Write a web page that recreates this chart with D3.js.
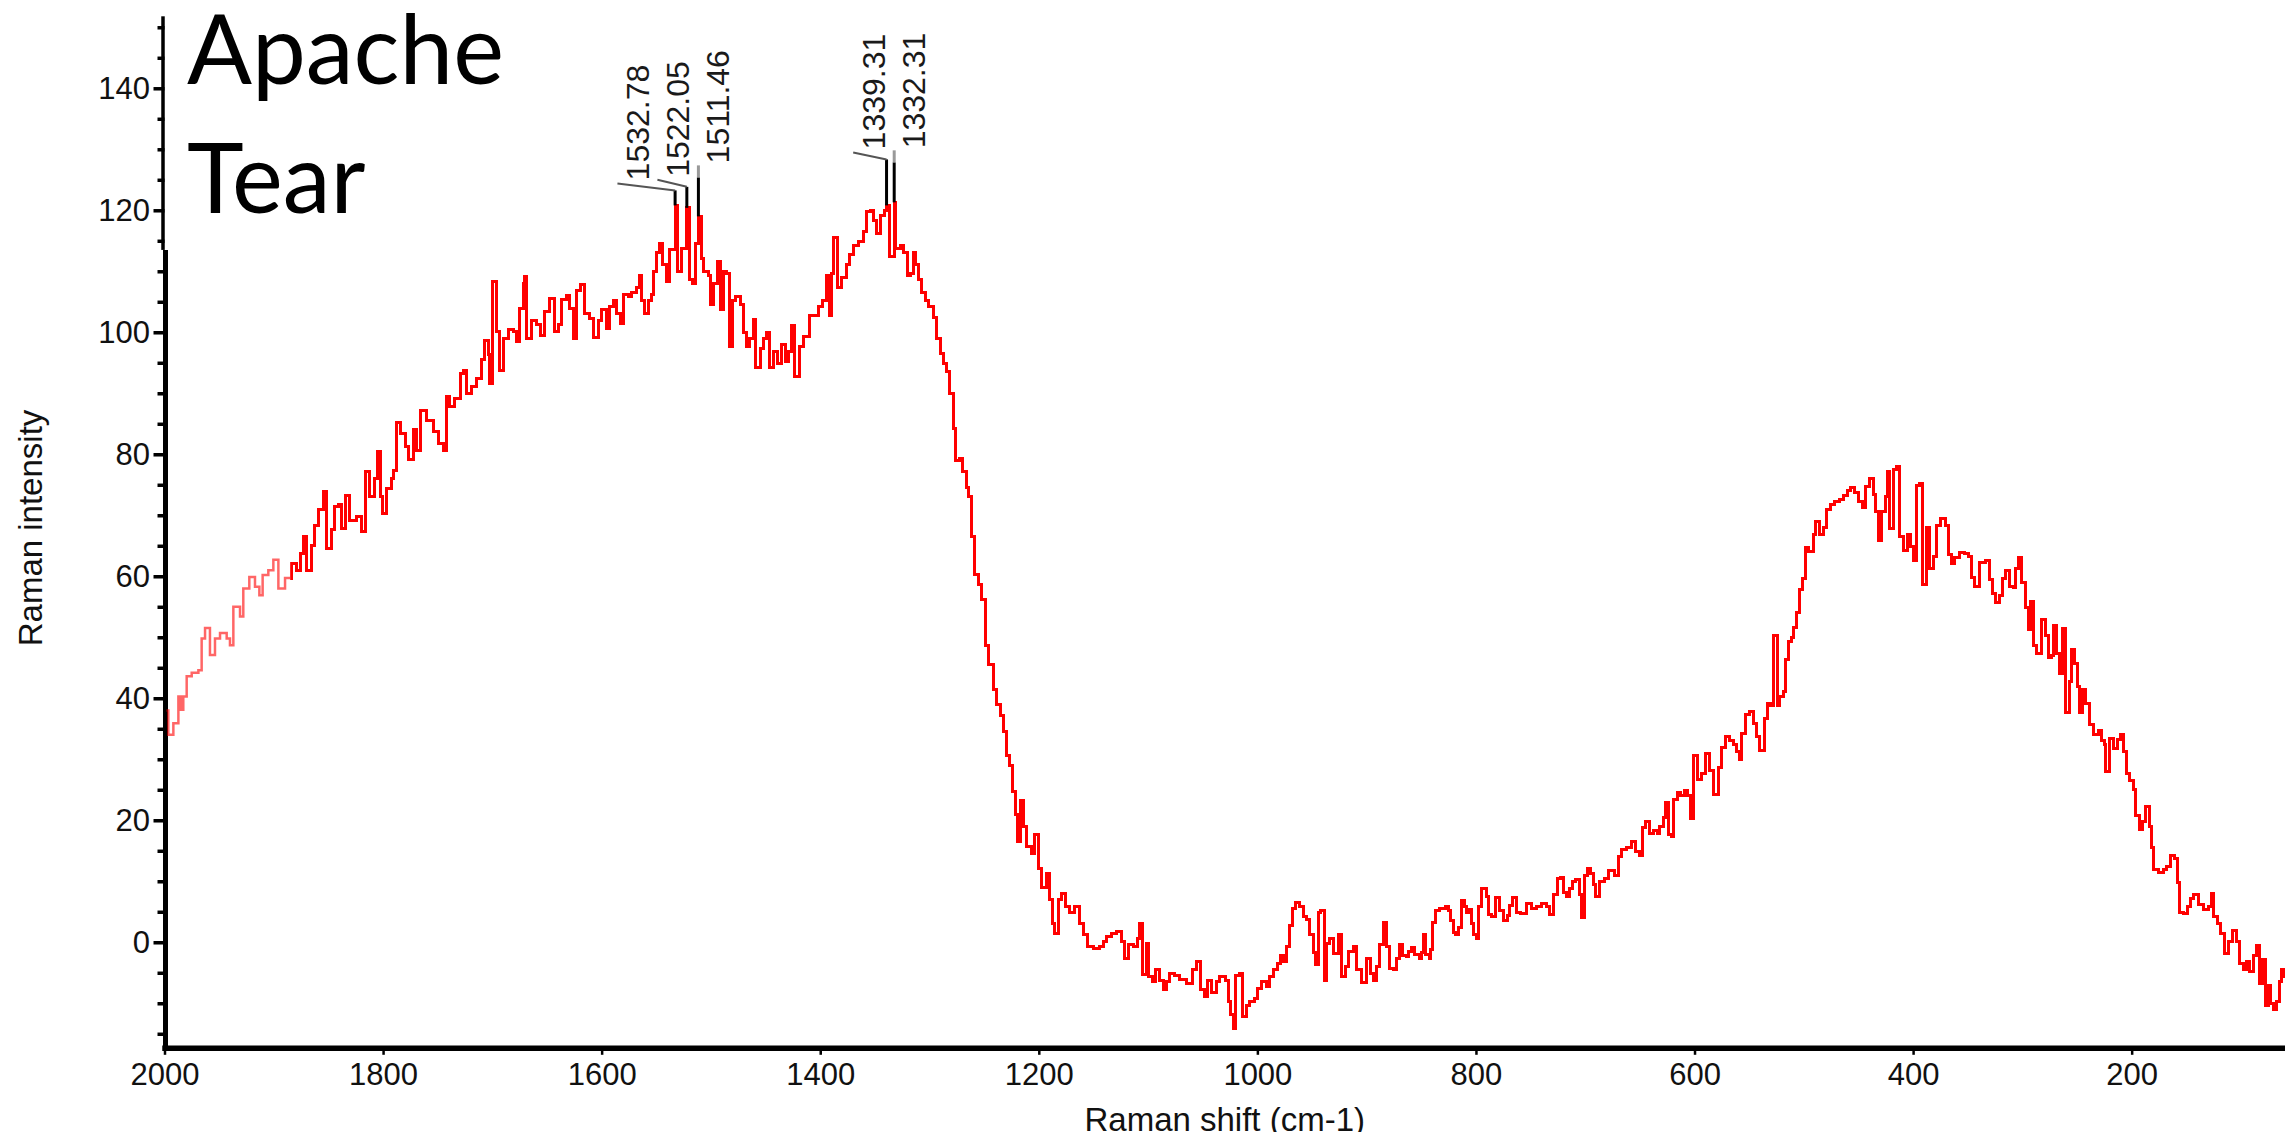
<!DOCTYPE html>
<html>
<head>
<meta charset="utf-8">
<title>Apache Tear - Raman spectrum</title>
<script src="https://cdn.jsdelivr.net/npm/d3@7"></script>
<style>
  body { margin: 0; background: #fff; }
  svg { display: block; background: #fff; }
</style>
</head>
<body>
<svg></svg>
<script>
// spectrum, cm-1 (descending) and intensity
var ramanShift = [
  2000, 1996.5, 1991.9, 1987.3, 1985.0, 1982.8, 1979.7, 1975.1, 1969.0, 1966.0,
  1962.9, 1958.4, 1953.8, 1949.2, 1943.1, 1940.1, 1937.0, 1930.9, 1927.9, 1922.4,
  1917.2, 1913.2, 1910.2, 1905.0, 1900.4, 1895.8, 1889.7, 1883.6, 1879.1, 1876.0,
  1873.0, 1869.9, 1865.3, 1862.3, 1859.2, 1854.7, 1851.6, 1847.0, 1844.0, 1840.9,
  1837.9, 1834.8, 1830.3, 1824.2, 1819.6, 1816.5, 1812.0, 1807.4, 1805.3, 1802.8,
  1800.7, 1796.7, 1792.1, 1790.6, 1787.6, 1784.5, 1779.9, 1776.9, 1772.3, 1769.3,
  1766.2, 1760.1, 1754.0, 1749.5, 1744.9, 1742.4, 1738.8, 1734.2, 1729.6, 1726.6,
  1723.5, 1719.0, 1714.4, 1709.8, 1706.8, 1703.7, 1702.2, 1699.8, 1696.1, 1693.7,
  1690.0, 1685.4, 1680.8, 1677.8, 1675.3, 1671.7, 1670.2, 1668.6, 1664.1, 1659.5,
  1656.4, 1651.9, 1647.3, 1642.7, 1639.7, 1636.6, 1632.0, 1629.0, 1626.0, 1622.9,
  1619.8, 1615.3, 1610.7, 1607.6, 1603.1, 1600.0, 1595.4, 1592.4, 1589.3, 1586.3,
  1582.6, 1580.2, 1575.6, 1572.5, 1567.9, 1565.5, 1563.4, 1560.9, 1557.3, 1554.2,
  1552.7, 1549.7, 1547.2, 1544.2, 1541.1, 1537.5, 1532.78, 1530.7, 1526.8, 1522.05,
  1519.5, 1517.0, 1514.5, 1511.46, 1509.0, 1507.0, 1502.4, 1500.2, 1497.2, 1494.1,
  1491.7, 1488.7, 1486.2, 1483.2, 1480.1, 1477.1, 1473.4, 1470.3, 1467.3, 1464.3,
  1460.6, 1458.8, 1455.1, 1452.1, 1449.0, 1446.0, 1442.9, 1439.2, 1435.3, 1432.2,
  1429.2, 1426.1, 1423.1, 1419.1, 1415.5, 1410.0, 1406.3, 1401.7, 1397.8, 1394.7,
  1391.7, 1389.5, 1387.4, 1384.3, 1380.4, 1376.4, 1373.4, 1369.7, 1365.1, 1360.5,
  1357.5, 1354.4, 1351.4, 1348.4, 1344.7, 1341.6, 1339.31, 1336.8, 1332.31, 1330.7,
  1327.0, 1324.0, 1320.3, 1317.2, 1314.8, 1312.4, 1310.2, 1307.2, 1304.1, 1301.1,
  1296.5, 1293.5, 1290.4, 1287.4, 1284.3, 1281.3, 1278.2, 1275.8, 1272.7, 1269.7,
  1266.6, 1264.5, 1261.4, 1258.4, 1255.3, 1252.3, 1249.2, 1246.2, 1241.6, 1238.6,
  1235.5, 1232.5, 1229.4, 1227.0, 1223.9, 1221.2, 1219.3, 1217.2, 1214.2, 1211.1,
  1206.5, 1203.5, 1200.4, 1197.4, 1192.8, 1189.8, 1187.3, 1185.2, 1182.1, 1179.1,
  1176.0, 1171.5, 1166.9, 1162.9, 1159.3, 1155.6, 1150.1, 1144.0, 1141.0, 1137.9,
  1133.3, 1128.8, 1124.2, 1122.0, 1118.1, 1113.5, 1109.8, 1107.4, 1104.9, 1101.9,
  1099.8, 1095.8, 1092.8, 1089.1, 1086.1, 1083.0, 1080.0, 1075.4, 1070.8, 1064.7,
  1059.2, 1055.6, 1051.9, 1048.8, 1045.8, 1041.8, 1037.3, 1034.2, 1029.6, 1026.6,
  1024.4, 1022.0, 1019.6, 1016.5, 1013.5, 1010.4, 1006.8, 1002.2, 1000.0, 996.1,
  991.5, 988.5, 984.8, 981.7, 978.7, 976.3, 973.2, 970.2, 967.7, 964.7,
  961.0, 958.0, 954.9, 951.9, 948.8, 947.0, 944.2, 941.8, 939.0, 936.6,
  933.6, 930.5, 925.9, 922.9, 919.8, 916.8, 912.2, 909.1, 904.6, 900.6,
  896.9, 893.9, 890.9, 887.8, 884.7, 882.3, 879.3, 875.6, 872.6, 869.5,
  867.1, 864.0, 861.9, 858.8, 855.8, 851.8, 849.7, 848.2, 846.6, 842.7,
  841.4, 839.6, 836.6, 832.9, 828.3, 825.3, 823.1, 820.7, 818.3, 816.1,
  813.1, 810.9, 808.5, 805.5, 803.9, 801.8, 799.3, 797.8, 794.8, 790.8,
  788.7, 785.6, 781.7, 778.6, 775.0, 771.3, 768.9, 766.4, 762.7, 759.1,
  754.2, 749.0, 744.5, 739.9, 735.3, 732.9, 728.6, 725.5, 722.5, 720.1,
  717.0, 714.0, 711.5, 708.5, 705.4, 703.3, 701.1, 698.1, 695.0, 692.6,
  690.2, 687.1, 682.8, 678.9, 675.8, 672.8, 669.7, 666.7, 662.1, 657.5,
  653.6, 650.5, 647.5, 644.4, 641.4, 637.7, 634.0, 631.6, 628.6, 626.4,
  624.0, 620.9, 618.8, 615.7, 612.7, 609.6, 606.6, 603.5, 600.5, 597.4,
  593.5, 589.5, 586.5, 582.8, 578.2, 575.2, 572.1, 567.6, 564.5, 561.5,
  559.0, 556.9, 553.8, 549.9, 545.6, 543.1, 540.1, 536.4, 533.4, 530.3,
  527.3, 524.2, 521.8, 518.8, 516.3, 514.2, 511.1, 509.0, 506.6, 503.5,
  501.1, 498.0, 495.9, 491.3, 488.9, 485.8, 482.2, 479.1, 475.4, 471.5,
  467.5, 463.8, 460.2, 457.1, 453.2, 450.1, 446.2, 443.1, 439.5, 436.4,
  434.0, 431.5, 428.8, 425.7, 423.6, 421.2, 418.1, 415.1, 412.6, 409.0,
  405.3, 402.2, 399.2, 396.8, 394.3, 391.3, 387.6, 384.6, 381.5, 378.5,
  374.8, 370.8, 367.8, 364.7, 361.7, 357.7, 353.4, 349.5, 346.4, 343.4,
  338.8, 334.2, 330.3, 327.2, 324.2, 320.5, 318.1, 315.0, 312.0, 308.3,
  305.9, 303.7, 300.7, 297.6, 294.6, 292.4, 290.0, 286.9, 282.4, 279.3,
  276.3, 273.2, 271.7, 268.7, 266.2, 263.2, 260.1, 257.1, 254.9, 251.9,
  249.7, 247.3, 244.9, 241.8, 238.8, 235.1, 230.5, 227.5, 225.3, 223.5,
  220.5, 216.8, 213.1, 210.1, 207.7, 204.6, 201.6, 198.5, 196.1, 193.0,
  190.0, 186.9, 183.9, 181.7, 180.2, 175.6, 171.1, 168.0, 164.3, 160.4,
  158.2, 155.8, 152.8, 149.1, 146.0, 143.0, 139.0, 134.5, 129.9, 126.8,
  124.7, 121.6, 118.6, 115.5, 111.6, 107.6, 103.9, 100.9, 97.9, 94.8,
  91.8, 88.7, 85.7, 83.2, 80.2, 78.0, 75.0, 72.8, 70.4, 67.4,
  64.9, 62.8, 60.6
];

var intensity = [
  38.0, 34.0, 35.9, 40.3, 38.1, 40.3, 43.6, 44.2, 44.6, 49.8,
  51.5, 47.1, 49.8, 50.7, 49.8, 48.7, 55.0, 53.4, 58.0, 59.9,
  58.3, 56.9, 60.2, 61.0, 62.7, 58.0, 59.7, 62.1, 61.0, 63.8,
  66.5, 61.0, 65.1, 68.4, 70.9, 73.9, 64.6, 67.6, 71.4, 71.7,
  67.9, 73.2, 69.2, 69.8, 67.3, 77.2, 73.1, 76.1, 80.4, 73.1,
  70.3, 74.4, 76.1, 77.4, 85.2, 83.4, 81.3, 79.1, 84.0, 80.7,
  87.1, 85.6, 83.7, 81.8, 80.7, 89.5, 87.8, 89.2, 93.3, 93.8,
  90.0, 91.1, 92.5, 95.5, 98.7, 96.3, 91.6, 108.3, 100.1, 93.8,
  99.0, 100.5, 100.1, 98.5, 103.9, 108.0, 109.2, 99.0, 102.0, 101.2,
  99.4, 103.4, 105.6, 100.1, 101.2, 105.3, 106.1, 103.9, 99.0, 106.9,
  107.8, 103.1, 102.3, 99.2, 102.0, 103.8, 100.7, 104.2, 105.2, 103.1,
  101.4, 106.2, 105.9, 106.6, 107.3, 109.3, 105.2, 103.1, 105.2, 106.2,
  110.0, 113.1, 114.5, 111.1, 108.3, 113.5, 120.8, 110.0, 113.8, 120.4,
  108.7, 108.0, 114.5, 119.0, 112.1, 110.0, 109.3, 104.5, 108.0, 111.6,
  103.8, 110.0, 109.7, 97.6, 105.2, 105.9, 104.5, 100.0, 97.6, 99.0,
  102.1, 94.2, 97.3, 99.0, 100.0, 94.2, 96.9, 94.8, 98.0, 95.2,
  96.9, 101.1, 92.8, 97.6, 99.3, 102.8, 102.8, 104.2, 105.2, 109.3,
  102.8, 109.7, 115.6, 107.3, 109.0, 111.1, 112.8, 114.2, 114.9, 116.6,
  119.8, 120.0, 118.3, 116.2, 119.1, 120.0, 120.8, 112.5, 121.3, 113.8,
  114.3, 113.1, 109.3, 109.7, 113.1, 111.1, 108.7, 106.6, 105.2, 104.2,
  102.4, 99.0, 96.6, 94.8, 93.5, 90.0, 84.2, 79.0, 79.3, 77.1,
  74.5, 73.1, 66.6, 60.3, 58.6, 56.2, 48.6, 45.5, 41.4, 38.9,
  37.2, 34.5, 30.7, 29.0, 24.7, 20.9, 16.5, 23.3, 19.0, 15.7,
  14.6, 17.6, 12.1, 8.9, 11.3, 7.0, 3.1, 1.5, 7.0, 8.0,
  5.9, 4.8, 5.9, 3.1, 1.2, -0.7, -1.0, -0.7, 0.1, 0.9,
  1.5, 1.8, 0.1, -2.6, -0.4, -0.7, 0.7, 3.1, -5.3, -0.2,
  -5.6, -6.4, -4.5, -6.2, -7.8, -6.4, -5.1, -5.5, -6.1, -6.8,
  -4.5, -3.2, -7.8, -8.9, -6.2, -8.2, -6.4, -5.6, -6.2, -9.7,
  -11.9, -14.1, -5.5, -5.1, -12.2, -10.3, -9.7, -9.2, -7.5, -6.4,
  -7.3, -5.6, -4.5, -3.4, -2.1, -3.2, -0.7, 2.7, 5.6, 6.5,
  5.9, 4.2, 3.8, 1.2, -1.7, -3.7, 4.8, 5.2, -6.2, -0.2,
  0.7, -1.8, 1.2, -5.6, -4.0, -1.5, -0.7, -4.5, -6.6, -2.6,
  -5.1, -6.2, -4.0, -0.3, 3.2, -0.7, -4.3, -4.5, -2.6, -0.3,
  -2.1, -2.4, -1.5, -0.8, -2.0, -2.6, -1.6, 1.2, -2.0, -2.6,
  -1.2, 3.2, 5.2, 5.5, 5.8, 5.2, 3.5, 1.6, 1.2, 2.4,
  6.9, 5.8, 4.9, 5.3, 3.0, 1.2, 0.6, 5.8, 8.8, 7.5,
  4.6, 4.3, 7.3, 5.2, 3.6, 4.4, 6.1, 7.3, 4.9, 4.7,
  6.4, 5.5, 5.8, 6.4, 5.8, 4.6, 7.9, 10.5, 10.6, 8.2,
  7.5, 8.8, 9.9, 10.3, 7.9, 4.0, 10.9, 12.1, 11.2, 9.4,
  7.5, 9.9, 10.5, 11.8, 11.8, 10.9, 14.1, 15.2, 15.6, 16.6,
  14.9, 14.3, 18.8, 19.8, 17.8, 18.4, 17.8, 19.0, 20.4, 22.9,
  17.6, 17.3, 23.4, 24.6, 24.0, 24.9, 24.0, 20.3, 30.6, 26.7,
  27.6, 30.9, 28.2, 24.3, 28.7, 32.0, 33.8, 33.1, 32.5, 31.2,
  30.0, 34.3, 37.3, 37.8, 35.8, 33.7, 31.5, 36.7, 39.1, 38.8,
  50.3, 38.8, 40.3, 41.1, 46.4, 49.3, 50.0, 51.6, 54.0, 57.8,
  59.7, 64.7, 64.1, 66.8, 68.9, 66.8, 68.0, 71.0, 71.7, 72.3,
  72.6, 73.2, 74.1, 74.6, 73.8, 72.3, 71.3, 74.7, 76.0, 73.4,
  70.6, 65.8, 70.6, 73.0, 77.2, 67.8, 77.5, 78.0, 66.5, 64.2,
  66.8, 64.9, 62.6, 74.9, 75.2, 58.7, 68.0, 61.3, 63.2, 68.4,
  69.4, 68.4, 63.6, 62.1, 63.0, 63.9, 63.7, 63.2, 59.8, 58.4,
  62.3, 62.6, 59.4, 57.1, 55.7, 56.8, 59.7, 61.0, 58.3, 58.1,
  61.3, 63.0, 58.9, 54.8, 51.3, 55.8, 48.7, 47.4, 52.9, 50.3,
  46.7, 47.0, 51.9, 47.4, 44.1, 51.4, 37.6, 42.8, 48.0, 45.7,
  41.9, 37.6, 41.5, 39.1, 35.7, 34.1, 34.7, 33.1, 32.5, 28.0,
  33.4, 31.8, 33.2, 34.1, 31.2, 27.6, 26.6, 25.0, 20.8, 18.5,
  19.8, 22.2, 18.9, 15.6, 12.0, 11.4, 12.0, 12.5, 14.2, 13.7,
  9.8, 4.9, 4.7, 5.8, 7.1, 7.8, 6.2, 5.4, 5.9, 8.0,
  4.3, 3.0, 1.4, -1.9, 0.2, 2.0, 0.2, -3.5, -4.4, -3.2,
  -4.8, -2.2, -0.5, -6.8, -2.9, -10.3, -7.1, -10.0, -11.1, -9.7,
  -6.4, -4.5, -5.8
];

var peakShifts = [1532.78, 1522.05, 1511.46, 1339.31, 1332.31];
var xTicks = [2000, 1800, 1600, 1400, 1200, 1000, 800, 600, 400, 200];
var yTicks = [0, 20, 40, 60, 80, 100, 120, 140];
var titleLines = ['Apache', 'Tear'];

var width = 2285;
var height = 1132;
var left = 164.5;
var bottom = 1047.8;

// how far each rotated label sits above its peak (px)
var labelLift = {1532.78: 25, 1522.05: 31, 1511.46: 53, 1339.31: 56, 1332.31: 54};

var x = d3.scaleLinear().domain([2000, 59.7]).range([left, width]);
var y = d3.scaleLinear().domain([-17.3, 151.8]).range([bottom, 16.3]);

var svg = d3.select('svg')
	.attr('width', width)
	.attr('height', height);

var font = '"Liberation Sans", Arial, sans-serif';

// y axis, minor ticks every 5 then labelled ticks every 20
var yMinor = d3.range(-15, 152, 5).filter(v => v % 20 !== 0);

svg.append('g')
	.attr('transform', 'translate(' + left + ',0)')
	.call(d3.axisLeft(y).tickValues(yMinor).tickSize(7).tickSizeOuter(0).tickFormat(''))
	.call(g => g.select('.domain').remove())
	.selectAll('line')
		.attr('stroke', '#000')
		.attr('stroke-width', 3.5);

var yAxis = svg.append('g')
	.attr('transform', 'translate(' + left + ',0)')
	.call(d3.axisLeft(y).tickValues(yTicks).tickSize(11).tickSizeOuter(0).tickPadding(3.5));

// the pasted title box nudges the top part of the axis line, so draw it in two pieces
yAxis.select('.domain').remove();
var axisBreak = y(113.5);
yAxis.append('line')
	.attr('x1', -1.5).attr('x2', -1.5)
	.attr('y1', y.range()[1]).attr('y2', axisBreak)
	.attr('stroke', '#000')
	.attr('stroke-width', 3.5);
yAxis.append('line')
	.attr('x1', 1).attr('x2', 1)
	.attr('y1', axisBreak).attr('y2', bottom + 2.5)
	.attr('stroke', '#000')
	.attr('stroke-width', 5);

yAxis.selectAll('.tick line')
	.attr('stroke-width', 3.5);
yAxis.selectAll('text')
	.attr('font-family', font)
	.attr('font-size', 31)
	.attr('fill', '#111');

var xAxis = svg.append('g')
	.attr('transform', 'translate(0,' + bottom + ')')
	.call(d3.axisBottom(x).tickValues(xTicks).tickFormat(d3.format('d'))
		.tickSize(7).tickSizeOuter(0).tickPadding(8));

xAxis.select('.domain')
	.attr('stroke-width', 5.5)
	.attr('stroke-linecap', 'square');
xAxis.selectAll('line')
	.attr('stroke-width', 2.5);
xAxis.selectAll('text')
	.attr('font-family', font)
	.attr('font-size', 31)
	.attr('fill', '#111');

// axis titles
svg.append('text')
	.attr('x', (left + width) / 2)
	.attr('y', 1131)
	.attr('text-anchor', 'middle')
	.attr('font-family', font)
	.attr('font-size', 33)
	.attr('fill', '#111')
	.text('Raman shift (cm-1)');

svg.append('text')
	.attr('transform', 'translate(42,528) rotate(-90)')
	.attr('text-anchor', 'middle')
	.attr('font-family', font)
	.attr('font-size', 33)
	.attr('fill', '#111')
	.text('Raman intensity');

// spectrum; the first stretch is drawn fainter as in the scanned original
var fadeEnd = x(1885);

svg.append('clipPath')
	.attr('id', 'plot')
	.append('rect')
		.attr('x', fadeEnd)
		.attr('y', 0)
		.attr('width', width - fadeEnd)
		.attr('height', bottom - 3);

svg.append('clipPath')
	.attr('id', 'faded')
	.append('rect')
		.attr('x', left + 2)
		.attr('y', 0)
		.attr('width', fadeEnd - left - 2)
		.attr('height', bottom - 3);

var spectrum = ramanShift.map((s, i) => ({shift: s, value: intensity[i]}));

var line = d3.line()
	.x(d => x(d.shift))
	.y(d => y(d.value))
	.curve(d3.curveStepAfter);

svg.append('path')
	.datum(spectrum)
	.attr('clip-path', 'url(#faded)')
	.attr('fill', 'none')
	.attr('stroke', '#ff0000')
	.attr('stroke-opacity', 0.6)
	.attr('stroke-width', 2.5)
	.attr('d', line);

svg.append('path')
	.datum(spectrum)
	.attr('clip-path', 'url(#plot)')
	.attr('fill', 'none')
	.attr('stroke', '#ff0000')
	.attr('stroke-width', 3)
	.attr('shape-rendering', 'crispEdges')
	.attr('d', line);

// peak labels: stacked to the left of the rightmost peak of each cluster
var peaks = peakShifts
	.map(s => ({shift: s, value: intensity[ramanShift.indexOf(s)]}))
	.sort((a, b) => a.shift - b.shift);

var clusterRight = null;
var rank = 0;
peaks.forEach(function(p){
	if (clusterRight === null || Math.abs(x(p.shift) - x(clusterRight.shift)) > 60) {
		clusterRight = p;
		rank = 0;
	} else {
		rank += 1;
	}
	p.rank = rank;
	p.baseline = x(clusterRight.shift) + 31 - 40 * rank;
	p.bottom = y(p.value) - labelLift[p.shift];
});

var labels = svg.append('g').classed('peak-labels', true);

peaks.forEach(function(p){
	var px = x(p.shift);
	var knee = p.rank === 0 ? p.bottom + 14 : p.bottom + 10;

	labels.append('line')
		.attr('x1', px).attr('x2', px)
		.attr('y1', y(p.value)).attr('y2', knee)
		.attr('stroke', '#000')
		.attr('stroke-width', 3);

	if (p.rank === 0) {
		labels.append('line')
			.attr('x1', px).attr('x2', px)
			.attr('y1', knee).attr('y2', p.bottom + 2)
			.attr('stroke', '#999')
			.attr('stroke-width', 3);
	} else {
		labels.append('line')
			.attr('x1', px).attr('x2', p.baseline - 32)
			.attr('y1', knee).attr('y2', p.bottom + 3)
			.attr('stroke', '#555')
			.attr('stroke-width', 2);
	}

	labels.append('text')
		.attr('transform', 'translate(' + p.baseline + ',' + p.bottom + ') rotate(-90)')
		.attr('font-family', font)
		.attr('font-size', 32)
		.attr('fill', '#1a1a1a')
		.text(p.shift.toFixed(2));
});

// sample name pasted on top left
var title = svg.append('g');
title.selectAll('text')
	.data(titleLines)
	.enter()
	.append('text')
		.attr('x', 187)
		.attr('y', (d, i) => 84 + i * 128.7)
		.attr('font-family', 'Lato, "Open Sans", sans-serif')
		.attr('font-size', 96)
		.attr('fill', '#000')
		.text(d => d);

var first = title.select('text').node();
var fit = 96 * 317 / first.getComputedTextLength();
title.selectAll('text').attr('font-size', fit);
</script>
</body>
</html>
